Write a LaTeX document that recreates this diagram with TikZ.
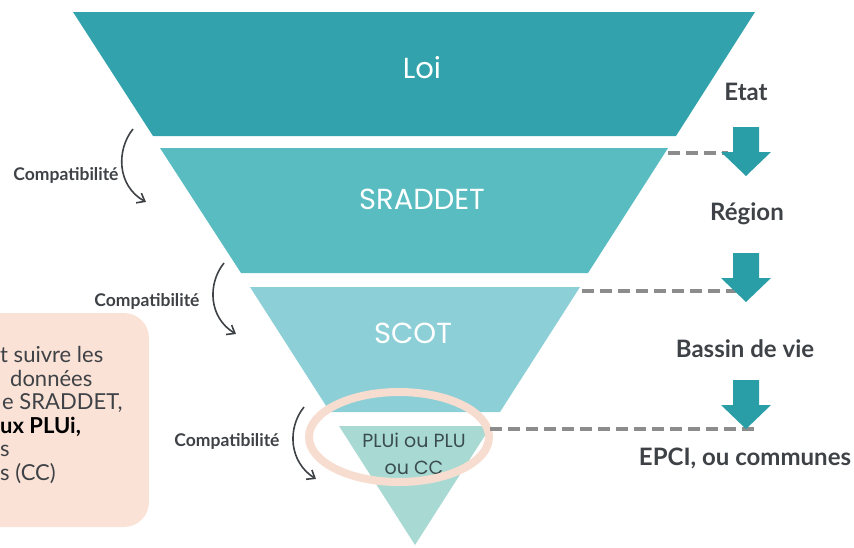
\documentclass[tikz,border=0pt]{standalone}
\usepackage{fontspec}
\setmainfont{Lato}
\newfontfamily\bandfont{Poppins}
\usepackage{xcolor}
\usetikzlibrary{arrows.meta}

\definecolor{loiteal}{RGB}{50,163,172}
\definecolor{sraddetteal}{RGB}{88,188,192}
\definecolor{scotteal}{RGB}{140,207,214}
\definecolor{pluteal}{RGB}{168,218,211}
\definecolor{arrowteal}{RGB}{42,158,167}
\definecolor{dashgray}{RGB}{140,140,140}
\definecolor{labelgray}{RGB}{62,66,70}
\definecolor{plutext}{RGB}{58,76,80}
\definecolor{pinkbg}{RGB}{250,226,214}
\definecolor{ringpink}{RGB}{246,221,208}

\begin{document}
\begin{tikzpicture}[x=1pt, y=-1pt,
        bandlabel/.style={text=white, inner sep=0pt, font=\bandfont\fontsize{29}{29}\selectfont},
        levellabel/.style={text=labelgray, inner sep=0pt, font=\bfseries\fontsize{24}{24}\selectfont},
        complabel/.style={text=labelgray, inner sep=0pt, font=\bfseries\fontsize{17.5}{17.5}\selectfont},
        compcurve/.style={draw=labelgray, line width=1.6pt, -{Straight Barb[length=7pt, width=11pt]}},
        link/.style={draw=dashgray, line width=3.5pt, dash pattern=on 12pt off 6pt},
        boxline/.style={anchor=base west, inner sep=0pt, text=labelgray, font=\fontsize{22}{22}\selectfont}]
        \useasboundingbox (0,0) rectangle (854,547);
        \clip (0,0) rectangle (854,547);
        %funnel bands
        \fill[loiteal] (73,12) -- (755,12) -- (676,136) -- (153,136) -- cycle;
        \fill[sraddetteal] (160,148) -- (668,148) -- (588,273) -- (241,273) -- cycle;
        \fill[scotteal] (250,287) -- (580,287) -- (500,412) -- (330,412) -- cycle;
        \fill[pluteal] (339,426) -- (491,426) -- (415,545) -- cycle;
        \node[bandlabel] (loi) at (422,68) {Loi};
        \node[bandlabel] (sraddet) at (422,199) {SRADDET};
        \node[bandlabel] (scot) at (413,333) {SCOT};
        \node[text=plutext, inner sep=0pt, align=center,
              font=\bandfont\fontsize{19}{27}\selectfont] (plu) at (414,454) {PLUi ou PLU\\ou CC};
        %ring round the PLU level
        \draw[ringpink, line width=8pt] (399,437) ellipse [x radius=90pt, y radius=45pt];
        %dashed links to the levels
        \coordinate (sraddetcorner) at (668,153);
        \coordinate (regionarrow) at (728,153);
        \coordinate (scotcorner) at (582,291);
        \coordinate (bassinarrow) at (740,291);
        \coordinate (plucorner) at (490,429);
        \coordinate (epciarrow) at (755,429);
        \draw[link] (sraddetcorner) -- (regionarrow);
        \draw[link] (scotcorner) -- (bassinarrow);
        \draw[link] (plucorner) -- (epciarrow);
        %level arrows
        \foreach \y in {127,253,380}
            \fill[arrowteal] (733,\y) -- ++(26,0) -- ++(0,25) -- ++(12,0)
                  -- ++(-25,24) -- ++(-25,-24) -- ++(12,0) -- cycle;
        \node[levellabel] (etat) at (746,92) {Etat};
        \node[levellabel] (region) at (747,214) {Région};
        \node[levellabel] (bassin) at (745,349) {Bassin de vie};
        \node[levellabel] (epci) at (745,458) {EPCI, ou communes};
        %compatibility curves
        \coordinate (compAstart) at (133,129);
        \coordinate (compAend) at (146,202);
        \coordinate (compBstart) at (224,263);
        \coordinate (compBend) at (236,334);
        \coordinate (compCstart) at (304,407);
        \coordinate (compCend) at (316,479);
        \draw[compcurve] (compAstart) .. controls (116,150) and (117,186) .. (compAend);
        \draw[compcurve] (compBstart) .. controls (207,284) and (209,318) .. (compBend);
        \draw[compcurve] (compCstart) .. controls (287,428) and (289,462) .. (compCend);
        \node[complabel] (compA) at (66,175) {Compatibilité};
        \node[complabel] (compB) at (147,301) {Compatibilité};
        \node[complabel] (compC) at (227,441) {Compatibilité};
        %note box, cut by the left border
        \fill[pinkbg, rounded corners=25pt] (-60,313) rectangle (149,527);
        \node[boxline] (noteA) at (0,362) {t suivre les};
        \node[boxline] (noteB) at (10,386) {données};
        \node[boxline] (noteC) at (2,409) {e SRADDET,};
        \node[boxline, text=black] (noteD) at (0,433) {\bfseries ux PLUi,};
        \node[boxline] (noteE) at (0,456) {s};
        \node[boxline] (noteF) at (0,480) {s (CC)};
\end{tikzpicture}
\end{document}
